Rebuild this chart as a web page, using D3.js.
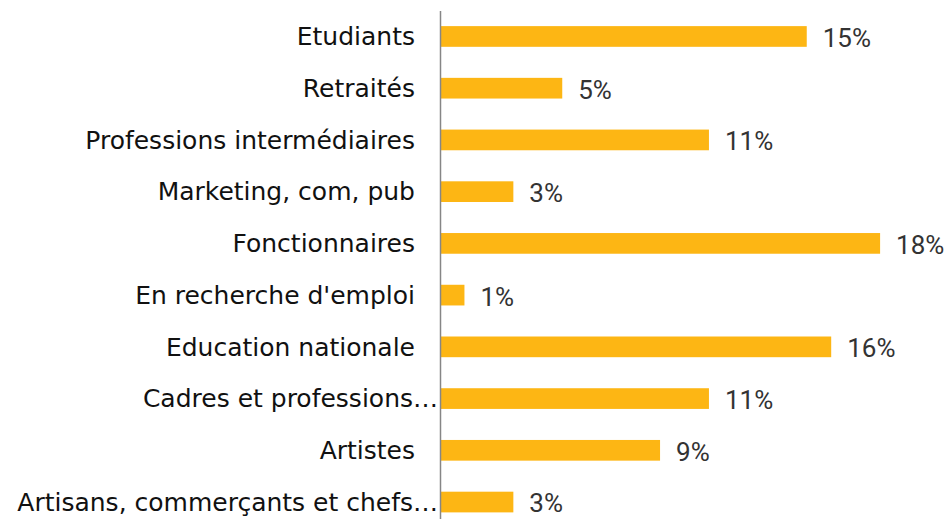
<!DOCTYPE html>
<html>
<head>
<meta charset="utf-8">
<script src="https://cdn.jsdelivr.net/npm/d3@7"></script>
<style>
  body { margin: 0; background: #fff; }
  svg { display: block; }
</style>
</head>
<body>
<div id="chart"></div>
<script>
// données
var categories = ["Etudiants", "Retraités", "Professions intermédiaires", "Marketing, com, pub",
  "Fonctionnaires", "En recherche d'emploi", "Education nationale", "Cadres et professions…",
  "Artistes", "Artisans, commerçants et chefs…"];
var values = [15, 5, 11, 3, 18, 1, 16, 11, 9, 3]; // en %

// réglages
var w = 949, h = 519;
var x0 = 440;         // position de l'axe vertical
var barColor = "#FDB614";

var svg = d3.select("#chart").append("svg")
  .attr("width", w)
  .attr("height", h);

var x = d3.scaleLinear().domain([0, 20]).range([x0, x0 + 489]);
var y = d3.scaleBand().domain(categories).range([10.6, 527.9])
  .paddingInner(0.6).paddingOuter(0.3);

// barres
svg.selectAll("rect.bar")
  .data(values)
  .enter().append("rect")
  .attr("class", "bar")
  .attr("x", x(0))
  .attr("y", function(d, i) { return y(categories[i]); })
  .attr("width", function(d) { return x(d) - x(0); })
  .attr("height", y.bandwidth())
  .attr("fill", barColor);

// étiquettes de valeur
svg.selectAll("text.val")
  .data(values)
  .enter().append("text")
  .attr("class", "val")
  .attr("x", function(d) { return x(d) + 16; })
  .attr("y", function(d, i) { return y(categories[i]) + y.bandwidth() / 2; })
  .attr("dy", "0.4em")
  .attr("font-family", "Roboto, sans-serif")
  .attr("font-size", "26px")
  .attr("fill", "#333")
  .text(function(d) { return d + "%"; });

// axe vertical + libellés
var axis = svg.append("g")
  .attr("transform", "translate(" + x0 + ",0)")
  .call(d3.axisLeft(y).tickSize(0).tickSizeOuter(0).tickPadding(25));

axis.select(".domain")
  .attr("stroke", "#868686")
  .attr("stroke-width", 1.5);

axis.selectAll(".tick text")
  .attr("font-family", "'DejaVu Sans', sans-serif")
  .attr("font-size", "25px")
  .attr("fill", "#111")
  .attr("dy", "0.35em")
  .attr("x", function(d) { return d.slice(-1) === "…" ? -2 : -25; });
</script>
</body>
</html>
